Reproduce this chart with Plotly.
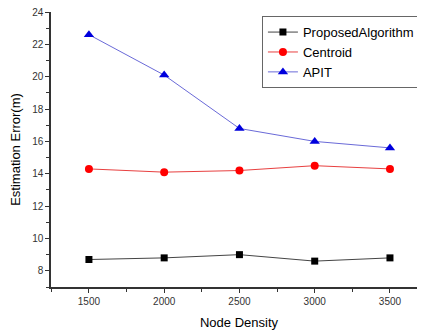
import plotly.graph_objects as go

node_density = [1500, 2000, 2500, 3000, 3500]
proposed = [8.7, 8.8, 9.0, 8.6, 8.8]
centroid = [14.3, 14.1, 14.2, 14.5, 14.3]
apit = [22.6, 20.1, 16.8, 16.0, 15.6]
y_ticks = [8, 10, 12, 14, 16, 18, 20, 22, 24]
x_ticks = [1500, 2000, 2500, 3000, 3500]

fig = go.Figure()
fig.add_trace(go.Scatter(x=node_density, y=proposed, name="ProposedAlgorithm",
                         mode="lines+markers", line=dict(color="#444444", width=1),
                         marker=dict(symbol="square", size=7, color="black")))
fig.add_trace(go.Scatter(x=node_density, y=centroid, name="Centroid",
                         mode="lines+markers", line=dict(color="#e84040", width=1),
                         marker=dict(symbol="circle", size=8, color="red")))
fig.add_trace(go.Scatter(x=node_density, y=apit, name="APIT",
                         mode="lines+markers", line=dict(color="#6a6ad8", width=1),
                         marker=dict(symbol="triangle-up", size=9, color="#0000dd")))

axis_common = dict(showgrid=False, zeroline=False, showline=True, linecolor="#333333",
                   linewidth=1.5, ticks="outside", ticklen=4, tickcolor="#333333",
                   automargin=False, ticklabeloverflow="allow",
                   tickfont=dict(family="Liberation Sans, Arial", size=10, color="#333333"))

fig.update_layout(
    width=425, height=335,
    margin=dict(l=43, r=6, t=4, b=56),
    paper_bgcolor="white", plot_bgcolor="white",
    showlegend=True,
    legend=dict(x=0.561, y=0.985, xanchor="left", yanchor="top",
                bordercolor="#666666", borderwidth=1, bgcolor="white",
                font=dict(family="Liberation Sans, Arial", size=13, color="black"),
                tracegroupgap=0, itemwidth=30),
    xaxis=dict(range=[1248, 3746], tickvals=x_ticks,
               minor=dict(ticks="outside", ticklen=3, dtick=250, tick0=1250, tickcolor="#333333"),
               title=dict(text="Node Density", font=dict(family="Liberation Sans, Arial", size=13, color="black"), standoff=12),
               **axis_common),
    yaxis=dict(range=[7, 24], tickvals=y_ticks,
               minor=dict(ticks="outside", ticklen=3, dtick=1, tick0=7, tickcolor="#333333"),
               title=dict(text="Estimation Error(m)", font=dict(family="Liberation Sans, Arial", size=13, color="black"), standoff=15),
               **axis_common),
)

fig.write_html("out.html")
